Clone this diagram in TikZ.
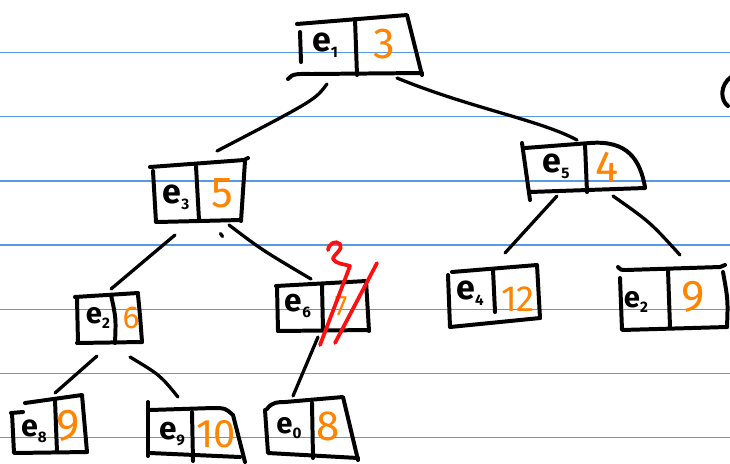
\documentclass[tikz,border=0pt]{standalone}
\usepackage{fontspec}
\setmainfont{Fira Sans}
\definecolor{ruled}{RGB}{85,155,232}
\definecolor{keyorange}{RGB}{255,132,0}
\definecolor{fixred}{RGB}{255,16,16}
% element name with a small subscript index
\newcommand\elm[2][29]{\fontsize{#1}{#1}\selectfont\bfseries e\raisebox{-0.35ex}{\fontsize{13}{13}\selectfont #2}}
\tikzset{
  pen/.style={line width=3.4pt, line cap=round, line join=round},
  link/.style={line width=2.8pt, line cap=round, line join=round},
  redpen/.style={line width=3.2pt, line cap=round, line join=round, draw=fixred},
  rule/.style={line width=1.1pt, draw=ruled},
  elabel/.style={inner sep=0pt, anchor=center},
  keynum/.style={inner sep=0pt, anchor=center, text=keyorange, font=\fontsize{#1}{#1}\selectfont},
  keynum/.default=37,
}
\begin{document}
\begin{tikzpicture}[x=0.03cm, y=-0.03cm]
\useasboundingbox (0,0) rectangle (730,463);
\fill[white] (0,0) rectangle (730,463);

% ruled paper
\foreach \yy in {52.5,116.7,180.9,245.1,309.3,373.5,437.7}
  \draw[rule] (0,\yy) -- (730,\yy);

% ---------- e1 | 3 ----------
\draw[pen] (288,79) .. controls (292,73) and (300,74) .. (312,74) -- (422,73);
\draw[pen] (297,24) -- (407,15) -- (422,75);
\draw[pen] (300,32) -- (301,62);
\draw[pen] (355,19) -- (357,75);
\node[elabel] (k1) at (325,45) {\elm{1}};
\node[keynum] (v1) at (384,44) {3};

% ---------- e3 | 5 ----------
\draw[pen] (150,167) -- (244,160) -- (248,158);
\draw[pen] (245,161) -- (241,221);
\draw[pen] (157,222) -- (241,220);
\draw[pen] (153,171) -- (156,222);
\draw[pen] (196,166) -- (199,220);
\node[elabel] (k3) at (176,197) {\elm{3}};
\node[keynum] (v3) at (222,193) {5};

% ---------- e5 | 4 ----------
\draw[pen] (522,143) -- (530,200);
\draw[pen] (525,148) -- (590,143) .. controls (628,140) and (640,160) .. (645,187);
\draw[pen] (530,192) -- (645,188);
\draw[pen] (585,144) -- (587,192);
\node[elabel] (k5) at (556,166) {\elm{5}};
\node[keynum] (v5) at (607,167) {4};

% ---------- e6 | 7 (corrected to 2) ----------
\draw[pen] (276,286) -- (366,281) -- (369,331);
\draw[pen] (278,331) -- (369,330);
\draw[pen] (277,287) -- (278,331);
\draw[pen] (322,285) -- (323,330);
\node[elabel] (k6) at (298,306) {\elm[27]{6}};
\node[keynum=24] (v6) at (341,306) {7};
\draw[redpen] (328,250) .. controls (329,243) and (336,240) .. (340,244)
  .. controls (344,249) and (333,255) .. (333,259)
  .. controls (336,264) and (344,264) .. (350,266) -- (320,345);
\draw[redpen] (377,263) -- (335,343);

% ---------- e2 | 6 ----------
\draw[pen] (75,297) -- (138,293);
\draw[pen] (138,295) .. controls (140,315) .. (142,342);
\draw[pen] (77,343) -- (142,342);
\draw[pen] (77,298) -- (78,343);
\draw[pen] (111,295) .. controls (116,318) .. (115,343);
\node[elabel] (k2) at (98,318) {\elm[25]{2}};
\node[keynum=27] (v2) at (131,318) {6};

% ---------- e8 | 9 ----------
\draw[pen] (25,403) -- (82,395) -- (87,452);
\draw[pen] (11,413) -- (23,412);
\draw[pen] (12,413) -- (14,453) -- (87,452);
\draw[pen] (55,400) -- (57,452);
\node[elabel] (k8) at (34,431) {\elm[26]{8}};
\node[keynum=38] (v8) at (68,426) {9};

% ---------- e9 | 10 ----------
\draw[pen] (148,402) -- (148,456);
\draw[pen] (150,410) -- (213,408) .. controls (225,408) .. (233,415) -- (245,462);
\draw[pen] (150,453) -- (240,457);
\draw[pen] (192,412) -- (193,461);
\node[elabel] (k9) at (172,434) {\elm[27]{9}};
\node[keynum=34] (v9) at (216,434) {10};

% ---------- e0 | 8 ----------
\draw[pen] (267,409) .. controls (272,402) and (278,402) .. (285,402) -- (343,397) -- (358,460);
\draw[pen] (265,410) -- (268,453) -- (358,458);
\draw[pen] (312,403) -- (313,458);
\node[elabel] (k0) at (289,428) {\elm[25]{0}};
\node[keynum=36] (v0) at (328,426) {8};

% ---------- e4 | 12 ----------
\draw[pen] (452,272) -- (537,265) -- (540,318);
\draw[pen] (448,275) -- (450,327) -- (540,318);
\draw[pen] (493,270) -- (495,312);
\node[elabel] (k4) at (470,293) {\elm{4}};
\node[keynum=31] (v4) at (518,299) {12};

% ---------- e2 | 9 ----------
\draw[pen] (618,267) .. controls (621,270) .. (626,270) -- (720,267) -- (725,265);
\draw[pen] (620,278) -- (622,330) -- (727,327);
\draw[pen] (723,272) .. controls (728,300) .. (727,327);
\draw[pen] (668,270) -- (670,327);
\node[elabel] (k2r) at (636,302) {\elm[25]{2}};
\node[keynum=38] (v2r) at (693,297) {9};

% ---------- connector ends ----------
\coordinate (e1sw) at (327,84);
\coordinate (e3n)  at (217,151);
\coordinate (e1se) at (397,78);
\coordinate (e5n)  at (577,140);
\coordinate (e3sw) at (175,235);
\coordinate (e2n)  at (111,289);
\coordinate (e3se) at (229,225);
\coordinate (e6n)  at (311,279);
\coordinate (e5sw) at (557,196);
\coordinate (e4n)  at (505,253);
\coordinate (e5se) at (613,196);
\coordinate (e2rn) at (680,255);
\coordinate (e2sw) at (97,356);
\coordinate (e8n)  at (55,393);
\coordinate (e2se) at (130,357);
\coordinate (e9n)  at (178,397);
\coordinate (e6s)  at (318,337);
\coordinate (e0n)  at (293,396);

% ---------- tree edges ----------
\draw[link] (e1sw) .. controls (315,100) .. (e3n);
\draw[link] (e1se) .. controls (470,108) and (540,120) .. (e5n);
\draw[link] (e3sw) -- (e2n);
\draw[link] (e3se) .. controls (262,250) .. (e6n);
\draw[link] (e5sw) -- (e4n);
\draw[link] (e5se) .. controls (650,222) .. (e2rn);
\draw[link] (e2sw) -- (e8n);
\draw[link] (e2se) .. controls (160,375) .. (e9n);
\draw[link] (e6s) -- (e0n);

% stray pen marks
\draw[link] (220.5,233.5) -- (222.5,236.5);
\draw[pen] (731,77) .. controls (720,85) and (720,100) .. (728,106);
\end{tikzpicture}
\end{document}
